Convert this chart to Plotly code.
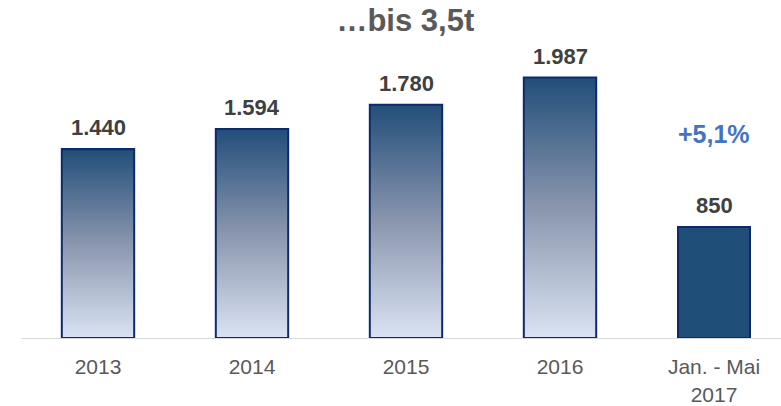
import plotly.graph_objects as go

categories = ["2013", "2014", "2015", "2016", "Jan. - Mai<br>2017"]
values = [1440, 1594, 1780, 1987, 850]
value_labels = ["1.440", "1.594", "1.780", "1.987", "850"]
growth_label = "+5,1%"
title_text = "…bis 3,5t"

BAR_W = 0.47
FONT = "Liberation Sans, Arial, sans-serif"
NAVY = "#1F4E79"
EDGE = "#0E2A6C"

fig = go.Figure()
xs = list(range(len(categories)))

# bar outlines (and solid fill for the last bar)
fill_colors = ["rgba(0,0,0,0)"] * (len(values) - 1) + [NAVY]
fig.add_trace(go.Bar(
    x=xs, y=values, width=BAR_W,
    marker=dict(color=fill_colors, line=dict(color=EDGE, width=2)),
    hoverinfo="skip", showlegend=False,
))

# gradient-filled bars (all but the last, which is solid), drawn on top with their own outline
for i, v in zip(xs[:-1], values[:-1]):
    x0, x1 = i - BAR_W / 2, i + BAR_W / 2
    fig.add_trace(go.Scatter(
        x=[x0, x1, x1, x0, x0], y=[0, 0, v, v, 0],
        mode="lines", line=dict(width=2, color=EDGE), fill="toself",
        fillgradient=dict(type="vertical",
                          colorscale=[[0, "#DAE3F3"], [0.5, "#8A96AE"], [1, "#224E79"]]),
        hoverinfo="skip", showlegend=False, cliponaxis=False,
    ))

for i, (v, lab) in enumerate(zip(values, value_labels)):
    fig.add_annotation(x=i, y=v, text=f"<b>{lab}</b>", showarrow=False,
                       yanchor="bottom", yshift=7,
                       font=dict(family=FONT, size=22, color="#404040"))

fig.add_annotation(x=xs[-1], y=1554, text=f"<b>{growth_label}</b>", showarrow=False,
                   yanchor="middle", font=dict(family=FONT, size=25, color="#4472C4"))

fig.update_layout(
    width=781, height=406,
    margin=dict(l=21, r=0, t=40, b=66),
    paper_bgcolor="white", plot_bgcolor="white",
    title=dict(text=f"<b>{title_text}</b>", x=0.519, xanchor="center", y=0.95, yanchor="middle",
               font=dict(family=FONT, size=31, color="#595959")),
    xaxis=dict(range=[-0.5, 4.435], tickvals=xs, ticktext=categories,
               showline=True, linecolor="#D9D9D9", linewidth=1,
               showgrid=False, zeroline=False, ticks="", ticklabelstandoff=10,
               tickfont=dict(family=FONT, size=21, color="#595959")),
    yaxis=dict(range=[0, 2274], visible=False, showgrid=False, zeroline=False),
    bargap=0,
)

fig.write_html("out.html", config={"displayModeBar": False},
               post_script="document.body.style.margin='0';")
